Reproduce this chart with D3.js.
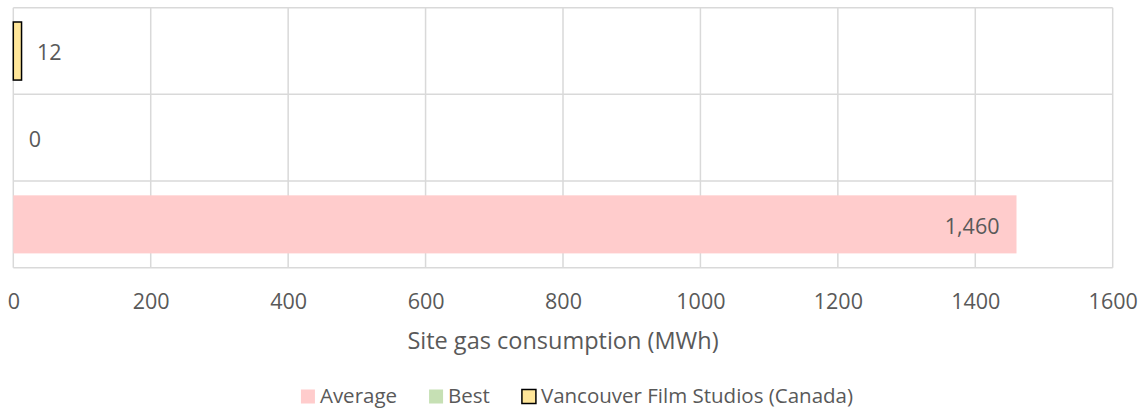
<!DOCTYPE html>
<html>
<head>
<meta charset="utf-8">
<script src="https://cdn.jsdelivr.net/npm/d3@7/dist/d3.min.js"></script>
<style>
  html, body { margin: 0; padding: 0; background: #fff; }
  svg text { font-family: "Open Sans", sans-serif; fill: #595959; }
</style>
</head>
<body>
<svg id="chart" width="1148" height="409"></svg>
<script>
const categories = ["Vancouver Film Studios (Canada)", "Best", "Average"];
const values = [12, 0, 1460];
const colors = ["#FFE699", "#C6E0B4", "#FFCCCC"];
const labels = ["12", "0", "1,460"];
const xTicks = [0, 200, 400, 600, 800, 1000, 1200, 1400, 1600];
const legendOrder = ["Average", "Best", "Vancouver Film Studios (Canada)"];
const legendColors = ["#FFCCCC", "#C6E0B4", "#FFE699"];
const axisTitle = "Site gas consumption (MWh)";

const svg = d3.select("#chart");
const x = d3.scaleLinear().domain([0, 1600]).range([13.3, 1112.7]);
const y = d3.scaleBand().domain(categories).range([7.7, 267.7])
  .paddingInner(0.33).paddingOuter(0.165);
const yEdges = d3.scaleBand().domain(categories).range([7.7, 267.7]).padding(0);

const grid = svg.append("g").attr("stroke", "#D9D9D9").attr("stroke-width", 1.5);
grid.selectAll("line.v").data(xTicks).join("line")
  .attr("x1", d => x(d)).attr("x2", d => x(d))
  .attr("y1", 7.7).attr("y2", 267.7);
const edges = categories.map(c => yEdges(c)).concat([yEdges.range()[1]]);
grid.selectAll("line.h").data(edges).join("line")
  .attr("x1", x(0)).attr("x2", x(1600))
  .attr("y1", d => d).attr("y2", d => d);

// bars
svg.append("g").selectAll("rect").data(categories).join("rect")
  .attr("x", x(0))
  .attr("y", d => y(d))
  .attr("width", (d, i) => Math.max(0, x(values[i]) - x(0)))
  .attr("height", y.bandwidth())
  .attr("fill", (d, i) => colors[i])
  .attr("stroke", (d, i) => i === 0 ? "#000" : "none")
  .attr("stroke-width", 1.5);

// data labels
svg.append("g").selectAll("text").data(categories).join("text")
  .attr("x", (d, i) => i === 2 ? x(values[i]) - 17 : x(values[i]) + 15.5)
  .attr("y", d => y(d) + y.bandwidth() / 2 + 1.5)
  .attr("dy", "0.36em")
  .attr("text-anchor", (d, i) => i === 2 ? "end" : "start")
  .style("font-size", "21.5px")
  .text((d, i) => labels[i]);

// x axis labels
const axis = svg.append("g").attr("transform", "translate(0,301.5)")
  .call(d3.axisBottom(x).tickValues(xTicks).tickSize(0).tickPadding(0).tickFormat(d3.format("d")));
axis.select(".domain").remove();
axis.selectAll("text").attr("y", 0).attr("dy", "0.36em")
  .style("font-size", "21.5px").style("font-family", "'Open Sans', sans-serif").attr("fill", "#595959");

svg.append("text").attr("x", x(800)).attr("y", 340.5).attr("dy", "0.36em")
  .attr("text-anchor", "middle").style("font-size", "23.5px").text(axisTitle);

// legend
const lg = svg.append("g");
const fs = 20.5, sq = 14, gapText = 5, gapItem = 32;
const tmp = legendOrder.map(name => {
  const t = lg.append("text").style("font-size", fs + "px").text(name);
  const w = t.node().getComputedTextLength();
  t.remove();
  return w;
});
const total = d3.sum(tmp) + legendOrder.length * (sq + gapText) + (legendOrder.length - 1) * gapItem;
let lx = 577 - total / 2;
legendOrder.forEach((name, i) => {
  const g = lg.append("g");
  g.append("rect").attr("x", lx).attr("y", 389.5).attr("width", sq).attr("height", sq)
    .attr("fill", legendColors[i])
    .attr("stroke", i === 2 ? "#000" : "none").attr("stroke-width", 1.5);
  g.append("text").attr("x", lx + sq + gapText).attr("y", 396).attr("dy", "0.36em")
    .style("font-size", fs + "px").text(name);
  lx += sq + gapText + tmp[i] + gapItem;
});
</script>
</body>
</html>
